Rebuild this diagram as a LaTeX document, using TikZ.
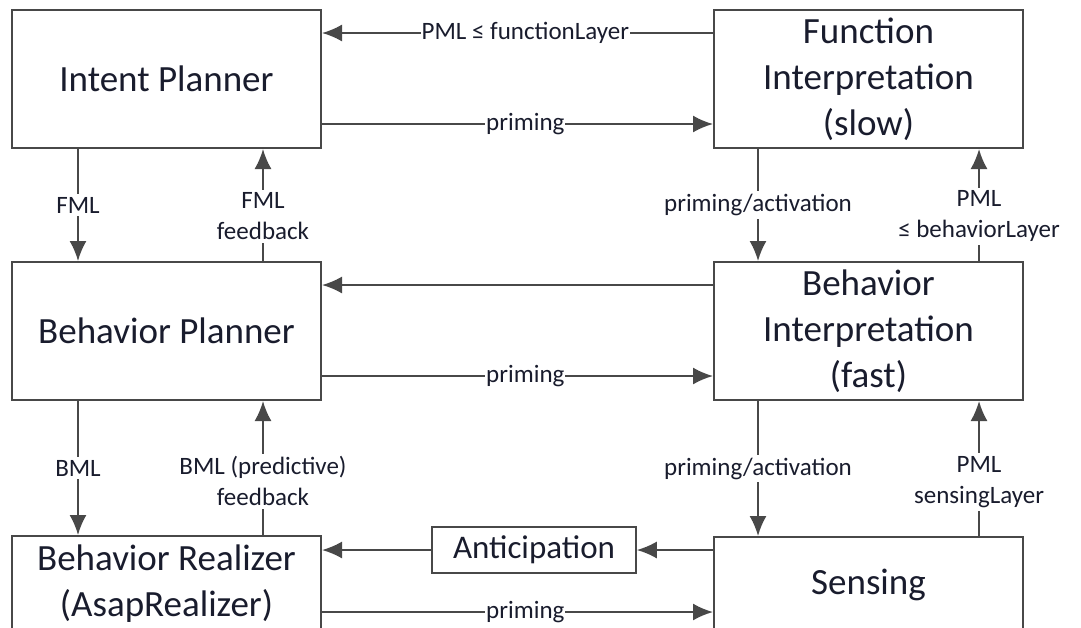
\documentclass[tikz,border=0pt]{standalone}
\usepackage{fontspec}
\setmainfont{Carlito}
\usetikzlibrary{arrows.meta}
\definecolor{linegray}{RGB}{72,72,72}
\definecolor{inkblue}{RGB}{25,28,45}
\begin{document}
\begin{tikzpicture}[x=1pt,y=-1pt,
  box/.style={draw=linegray,line width=2pt,minimum width=309pt,minimum height=138pt,
    inner sep=0pt,align=center,text=inkblue,font=\fontsize{37}{46}\selectfont},
  lowbox/.style={box,minimum height=96pt},
  lbl/.style={fill=white,inner xsep=1pt,inner ysep=3pt,align=center,text=inkblue,
    font=\fontsize{25}{31}\selectfont},
  arr/.style={draw=linegray,line width=2pt,-{Latex[length=20pt,width=17pt]}}]
        \clip (0,0) rectangle (1081,627);
        % layers
        \node[box] (ip) at (166.5,79) {Intent Planner};
        \node[box] (fi) at (868.5,79) {Function\\Interpretation\\(slow)};
        \node[box] (bp) at (166.5,331) {Behavior Planner};
        \node[box] (bi) at (868.5,331) {Behavior\\Interpretation\\(fast)};
        \node[lowbox] (br) at (166.5,584) {Behavior Realizer\\(AsapRealizer)};
        \node[lowbox] (se) at (868.5,585) {Sensing};
        \node[draw=linegray,line width=1.5pt,minimum width=204pt,minimum height=46pt,inner sep=0pt,
          text=inkblue,font=\fontsize{33}{36}\selectfont] (an) at (534,550) {Anticipation};
        % columns and rows of the connectors
        \coordinate (ca) at (78,0);
        \coordinate (cb) at (263,0);
        \coordinate (cc) at (758,0);
        \coordinate (cd) at (979,0);
        \coordinate (ra) at (0,33);
        \coordinate (rb) at (0,124);
        \coordinate (rc) at (0,285);
        \coordinate (rd) at (0,376);
        \coordinate (rf) at (0,612);
        % horizontal
        \draw[arr] (fi.west |- ra) -- node[lbl,pos=0.48]{PML ≤ functionLayer} (ip.east |- ra);
        \draw[arr] (ip.east |- rb) -- node[lbl,pos=0.52]{priming} (fi.west |- rb);
        \draw[arr] (bi.west |- rc) -- (bp.east |- rc);
        \draw[arr] (bp.east |- rd) -- node[lbl,pos=0.52]{priming} (bi.west |- rd);
        \draw[arr] (se.west |- an.east) -- (an.east);
        \draw[arr] (an.west) -- (br.east |- an.west);
        \draw[arr] (br.east |- rf) -- node[lbl,pos=0.52]{priming} (se.west |- rf);
        % vertical
        \draw[arr] (ip.south -| ca) -- node[lbl]{FML} (bp.north -| ca);
        \draw[arr] (bp.north -| cb) -- node[lbl,pos=0.4]{FML\\feedback} (ip.south -| cb);
        \draw[arr] (fi.south -| cc) -- node[lbl]{priming/activation} (bi.north -| cc);
        \draw[arr] (bi.north -| cd) -- node[lbl,pos=0.4]{PML\\≤ behaviorLayer} (fi.south -| cd);
        \draw[arr] (bp.south -| ca) -- node[lbl]{BML} (br.north -| ca);
        \draw[arr] (br.north -| cb) -- node[lbl,pos=0.4]{BML (predictive)\\feedback} (bp.south -| cb);
        \draw[arr] (bi.south -| cc) -- node[lbl]{priming/activation} (se.north -| cc);
        \draw[arr] (se.north -| cd) -- node[lbl,pos=0.4]{PML\\sensingLayer} (bi.south -| cd);
\end{tikzpicture}
\end{document}
